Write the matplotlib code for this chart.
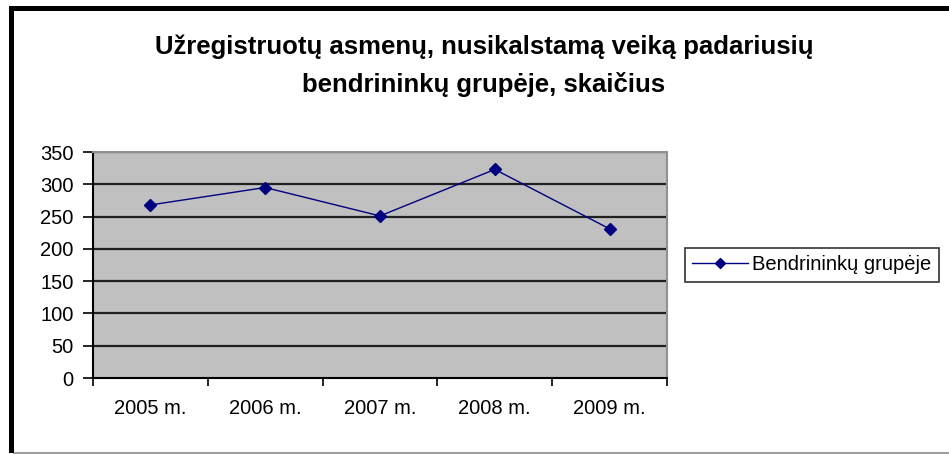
import matplotlib.pyplot as plt
from matplotlib.patches import Rectangle
from matplotlib.lines import Line2D

years = ['2005 m.', '2006 m.', '2007 m.', '2008 m.', '2009 m.']
counts = [268, 295, 251, 323, 231]
y_ticks = [0, 50, 100, 150, 200, 250, 300, 350]
series_name = 'Bendrininkų grupėje'
title = 'Užregistruotų asmenų, nusikalstamą veiką padariusių\nbendrininkų grupėje, skaičius'

plt.rcParams['font.family'] = ['Liberation Sans', 'DejaVu Sans']

W, H = 949, 454
fig = plt.figure(figsize=(W / 100, H / 100), dpi=100)
fig.patch.set_facecolor('white')

# thick black frame on top and left, thin gray line at the bottom
fig.add_artist(Rectangle((9 / W, 1 / H), 5 / W, 1 - 7 / H, transform=fig.transFigure,
                         color='black', lw=0, zorder=5))
fig.add_artist(Rectangle((9 / W, 1 - 11 / H), 1 - 9 / W, 5 / H, transform=fig.transFigure,
                         color='black', lw=0, zorder=5))
fig.add_artist(Line2D([14 / W, 1], [0.8 / H, 0.8 / H], transform=fig.transFigure,
                      color='#a0a0a0', lw=1.5))

ax = fig.add_axes([93 / W, 1 - 378 / H, (667 - 93) / W, (378 - 152) / H])
ax.set_facecolor('#c0c0c0')

x = list(range(len(years)))
ax.plot(x, counts, color='#000080', lw=1.0, marker='D', markersize=6,
        markerfacecolor='#000080', markeredgecolor='#000080', label=series_name, zorder=3)

ax.set_xlim(-0.5, len(years) - 0.5)
ax.set_ylim(0, 350)
ax.set_yticks(y_ticks)
ax.set_yticklabels([str(v) for v in y_ticks], fontsize=14.5)
ax.set_xticks(x)
ax.set_xticklabels(years, fontsize=14.5)
ax.set_xticks([i - 0.5 for i in range(len(years) + 1)], minor=True)
ax.tick_params(axis='x', which='major', length=0, pad=15)
ax.tick_params(axis='x', which='minor', length=6, width=1.2, color='black', direction='out')
ax.tick_params(axis='y', length=7, width=1.2, color='black', direction='out', pad=7)

for v in y_ticks[1:]:
    ax.axhline(v, color='#202020', lw=1.6, zorder=1)

for side in ['top', 'right']:
    ax.spines[side].set_color('#909090')
    ax.spines[side].set_linewidth(1.5)
for side in ['left', 'bottom']:
    ax.spines[side].set_color('black')
    ax.spines[side].set_linewidth(1.5)

fig.text(484 / W, 1 - 66 / H, title, ha='center', va='center', fontsize=18.5,
         fontweight='bold', linespacing=1.65)

leg = fig.legend(loc='center left', bbox_to_anchor=(685 / W, 1 - 265 / H), fontsize=14.5,
                 frameon=True, fancybox=False, edgecolor='black', borderpad=0.35,
                 handlelength=2.8, handletextpad=0.2, borderaxespad=0, markerscale=0.8)
leg.get_frame().set_linewidth(1.2)

fig.savefig('out.png', dpi=100)
